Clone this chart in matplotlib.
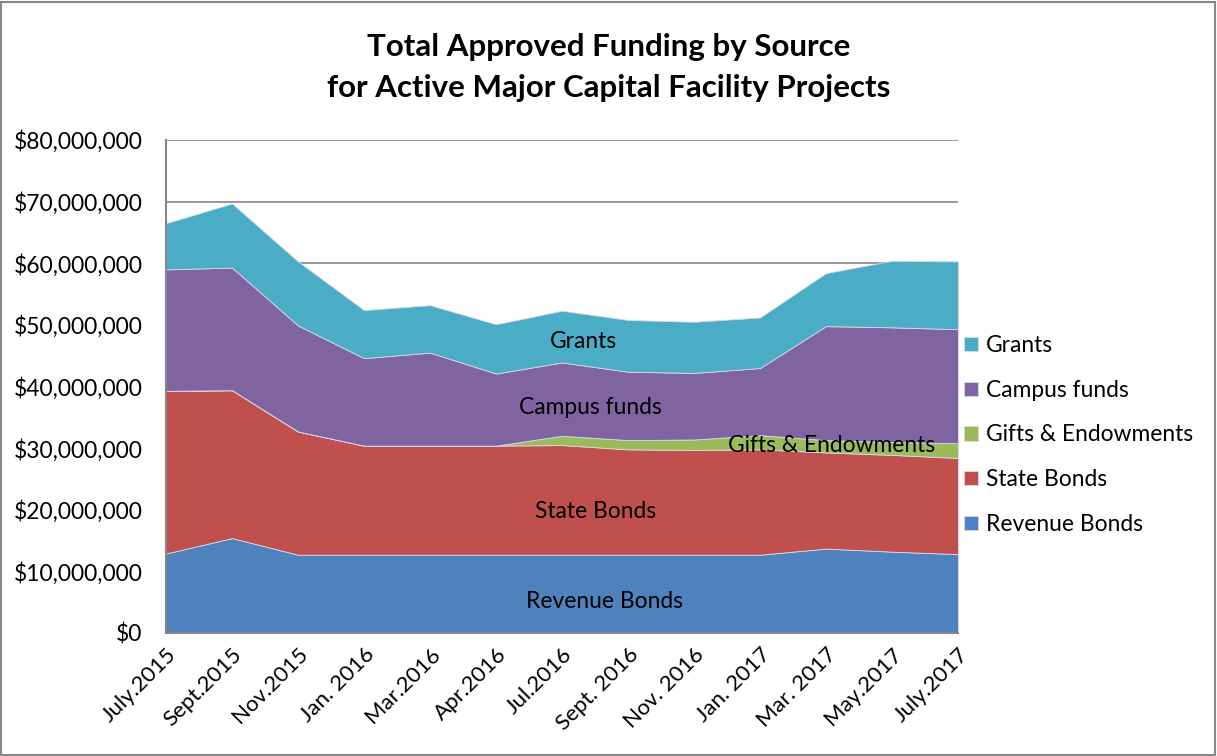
import matplotlib
matplotlib.use("Agg")
import matplotlib.pyplot as plt
import numpy as np
from matplotlib.patches import Rectangle
from matplotlib.ticker import FuncFormatter, MultipleLocator

plt.rcParams['font.family'] = ['Lato', 'DejaVu Sans']

months = ["July.2015", "Sept.2015", "Nov.2015", "Jan. 2016", "Mar.2016", "Apr.2016",
          "Jul.2016", "Sept. 2016", "Nov. 2016", "Jan. 2017", "Mar. 2017", "May.2017", "July.2017"]
# values in millions of dollars
revenue_bonds = [12.9, 15.4, 12.7, 12.7, 12.7, 12.7, 12.7, 12.7, 12.7, 12.7, 13.7, 13.2, 12.8]
state_bonds = [26.4, 24.0, 20.0, 17.7, 17.7, 17.7, 17.8, 17.1, 17.0, 17.1, 15.6, 15.7, 15.6]
gifts_endowments = [0, 0, 0, 0, 0, 0, 1.5, 1.5, 1.7, 2.3, 2.0, 2.1, 2.4]
campus_funds = [19.7, 19.9, 17.2, 14.2, 15.1, 11.7, 11.9, 11.1, 10.8, 10.9, 18.5, 18.6, 18.5]
grants = [7.5, 10.4, 10.4, 7.8, 7.7, 8.0, 8.4, 8.4, 8.3, 8.2, 8.6, 10.8, 11.0]

series_names = ["Revenue Bonds", "State Bonds", "Gifts & Endowments", "Campus funds", "Grants"]
colors = ["#4F81BD", "#C0504D", "#9BBB59", "#8064A2", "#4BACC6"]

fig = plt.figure(figsize=(12.17, 7.56), dpi=100)
ax = fig.add_axes([166/1217, 1-633/756, (958-166)/1217, (633-140)/756])

x = np.arange(len(months))
data = np.array([revenue_bonds, state_bonds, gifts_endowments, campus_funds, grants]) * 1e6
polys = ax.stackplot(x, data, colors=colors, labels=series_names,
                     edgecolor="#d8d8e8", linewidth=0.6, zorder=2)

ax.set_xlim(0, len(months) - 1)
ax.set_ylim(0, 80e6)
ax.yaxis.set_major_locator(MultipleLocator(10e6))
ax.yaxis.set_major_formatter(FuncFormatter(lambda v, p: "${:,.0f}".format(v)))
ax.grid(axis='y', color="#868686", linewidth=1.2, zorder=1)
ax.set_axisbelow(True)
ax.set_xticks(x)
ax.set_xticklabels(months, rotation=45, ha='right', rotation_mode='anchor')
ax.tick_params(axis='y', length=0, pad=17, labelsize=16.5)
ax.tick_params(axis='x', length=0, pad=8, labelsize=16)
for s in ['top', 'right']:
    ax.spines[s].set_visible(False)
for s in ['left', 'bottom']:
    ax.spines[s].set_color("#868686")
    ax.spines[s].set_linewidth(1.5)

fig.text((363+855)/2/1217, 1-47/756, "Total Approved Funding by Source",
         ha='center', va='center', fontsize=22.5, fontweight='bold')
fig.text((363+855)/2/1217, 1-88/756, "for Active Major Capital Facility Projects",
         ha='center', va='center', fontsize=22.5, fontweight='bold')

# in-area labels
def lab(px, py, t):
    ax.text(px/1217, 1-py/756, t, transform=fig.transFigure, ha='center', va='center',
            fontsize=16.4, zorder=5)
lab(583, 341, "Grants")
lab(590, 407, "Campus funds")
lab(832, 445, "Gifts & Endowments")
lab(596, 512, "State Bonds")
lab(604, 601, "Revenue Bonds")

handles, labels = ax.get_legend_handles_labels()
leg = fig.legend(handles[::-1], labels[::-1], loc='center left',
                 bbox_to_anchor=(964/1217, 1-435/756), frameon=False, fontsize=16.4,
                 borderpad=0, borderaxespad=0,
                 handlelength=0.6, handleheight=0.6, handletextpad=0.35, labelspacing=1.04)

fig.patches.append(Rectangle((0.001, 0.001), 0.997, 0.997, transform=fig.transFigure,
                             fill=False, edgecolor="#868686", linewidth=1.5))

fig.savefig("out.png", dpi=100)
